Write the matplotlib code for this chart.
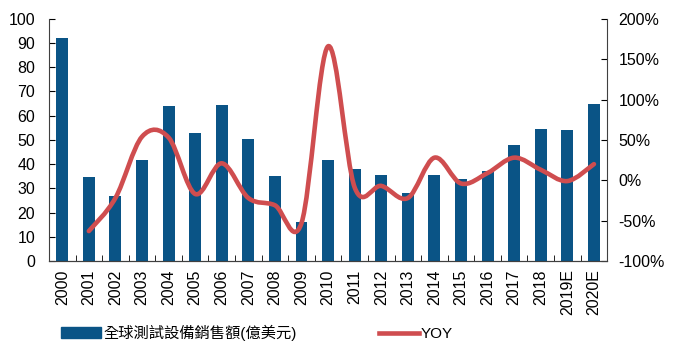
import numpy as np
import matplotlib
matplotlib.use("Agg")
import matplotlib.pyplot as plt
from matplotlib.path import Path
from matplotlib.patches import PathPatch
from matplotlib.lines import Line2D
from matplotlib.patches import Patch

plt.rcParams['font.family'] = ['Liberation Sans', 'Noto Sans CJK TC', 'DejaVu Sans']

years = ['2000', '2001', '2002', '2003', '2004', '2005', '2006', '2007', '2008', '2009',
         '2010', '2011', '2012', '2013', '2014', '2015', '2016', '2017', '2018', '2019E', '2020E']
sales = [92, 34.5, 27, 41.5, 64, 53, 64.5, 50.5, 35, 16,
         41.5, 38, 35.5, 28, 35.5, 34, 37, 48, 54.5, 54, 65]
# YOY (%) from 2001 onwards
yoy = [-63, -22, 54, 53, -17, 21, -22, -31, -53,
       166, -9, -7, -22, 28, -4, 9, 28, 13, -1, 20]

BAR_COLOR = '#0a5486'
LINE_COLOR = '#cf4d4f'

fig = plt.figure(figsize=(6.8, 3.56), dpi=100)
ax = fig.add_axes([0.072, 0.267, 0.821, 0.68])
ax2 = ax.twinx()

x = np.arange(len(years))
ax.bar(x, sales, width=0.45, color=BAR_COLOR, zorder=2)
ax.set_xlim(-0.5, len(years) - 0.5)
ax.set_ylim(0, 100)
ax.set_yticks(range(0, 101, 10))
ax.set_xticks(x)
ax.set_xticklabels(years, rotation=90, fontsize=11.5)
ax.set_xticks(np.arange(-0.5, len(years), 1), minor=True)
ax.tick_params(axis='x', which='major', length=0, pad=6)
ax.tick_params(axis='x', which='minor', direction='in', length=4)
ax.tick_params(axis='y', direction='in', length=4, labelsize=11.5, pad=10)

# smoothed YOY curve (Excel-like smoothing through the points)
px = x[1:].astype(float)
py = np.array(yoy, dtype=float)
pts = np.column_stack([px, py])
verts = [pts[0]]
codes = [Path.MOVETO]
n = len(pts)
for i in range(n - 1):
    p0 = pts[max(i - 1, 0)]
    p1 = pts[i]
    p2 = pts[i + 1]
    p3 = pts[min(i + 2, n - 1)]
    c1 = p1 + (p2 - p0) / 6.0
    c2 = p2 - (p3 - p1) / 6.0
    verts += [c1, c2, p2]
    codes += [Path.CURVE4] * 3
path = Path(verts, codes)
ax2.add_patch(PathPatch(path, facecolor='none', edgecolor=LINE_COLOR, lw=3.3,
                        capstyle='round', joinstyle='round', zorder=3))
ax2.set_ylim(-100, 200)
ax2.set_yticks(range(-100, 201, 50))
ax2.set_yticklabels([f'{v}%' for v in range(-100, 201, 50)])
ax2.tick_params(axis='y', direction='in', length=4, labelsize=11.5, pad=8)

for a in (ax, ax2):
    a.spines['top'].set_visible(False)
    for s in ('left', 'right', 'bottom'):
        a.spines[s].set_color('#404040')
ax2.spines['left'].set_visible(False)
ax.spines['right'].set_visible(False)

handles = [Patch(color=BAR_COLOR), Line2D([0], [0], color=LINE_COLOR, lw=3.3)]
labels = ['全球測試設備銷售額(億美元)', 'YOY']
fig.legend(handles, labels, loc='center', bbox_to_anchor=(0.378, 0.065), ncol=2,
           frameon=False, columnspacing=5.4, handlelength=2.6,
           handletextpad=0.15, prop={'family': ['Liberation Sans', 'Noto Sans CJK TC'], 'size': 11})

fig.savefig('out.png', dpi=100)
